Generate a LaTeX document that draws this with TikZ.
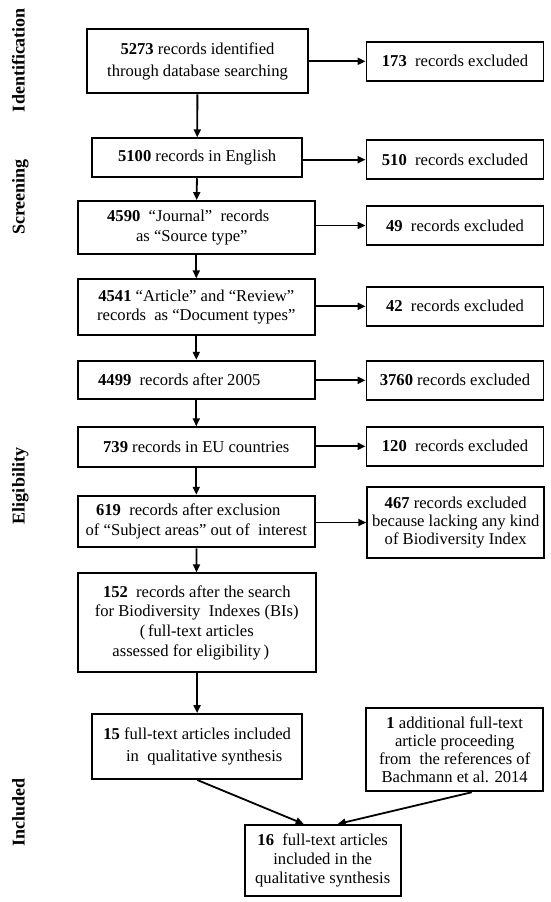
\documentclass[tikz,border=0pt]{standalone}
\usepackage{fontspec}
\setmainfont{Liberation Serif}
\usetikzlibrary{arrows.meta}
\begin{document}
\begin{tikzpicture}[x=1pt,y=-1pt,
  box/.style={draw, line width=1.9pt, inner sep=0pt, align=center, font=\fontsize{16.6}{20}\selectfont},
  rbox/.style={box, minimum width=177pt, minimum height=39.3pt},
  arr/.style={line width=1.8pt, -{Triangle[length=8pt,width=7pt]}},
  stage/.style={rotate=90, anchor=base, font=\fontsize{18}{20}\selectfont\bfseries}]
\useasboundingbox (0,0) rectangle (550,902);
\fill[white] (0,0) rectangle (550,902);

% stage labels
\node[stage] (s1) at (24.6,60) {Identification};
\node[stage] (s2) at (24.6,197) {Screening};
\node[stage] (s3) at (24.6,486) {Eligibility};
\node[stage] (s4) at (24.6,812) {Included};

% main column
\node[box, minimum width=220.4pt, minimum height=64.3pt, font=\fontsize{16.6}{22.5}\selectfont] (b1) at (197.5,61.2)
  {\textbf{5273} records identified\\through database searching};
\node[box, minimum width=209.7pt, minimum height=39pt] (b2) at (197.2,157.8)
  {\textbf{5100} records in English};
\node[box, minimum width=237.3pt, minimum height=53.3pt] (b3) at (196.3,227.7)
  {\textbf{4590}~~“Journal”~~records\hspace*{16pt}\\as “Source type”\hspace*{9pt}};
\node[box, minimum width=237.3pt, minimum height=55.7pt, font=\fontsize{16.6}{19.5}\selectfont] (b4) at (196.3,307.2)
  {\textbf{4541} “Article” and “Review”\\records~~as “Document types”};
\node[box, minimum width=237.3pt, minimum height=38.6pt] (b5) at (196.3,380)
  {\textbf{4499}~~records after 2005\hspace*{34pt}};
\node[box, minimum width=237.3pt, minimum height=39.4pt] (b6) at (196.3,447)
  {\textbf{739} records in EU countries};
\node[box, minimum width=237.3pt, minimum height=51.6pt] (b7) at (196.3,521.5)
  {\textbf{619}~~records after exclusion\hspace*{16pt}\\of “Subject areas” out of~~interest};
\node[box, minimum width=238pt, minimum height=98.4pt, font=\fontsize{16.6}{19.7}\selectfont] (b8) at (196.8,622.5)
  {\textbf{152}~~records after the search\\for Biodiversity~~Indexes (BIs)\\(\,full-text articles\hspace*{26pt}\\assessed for eligibility\,)\hspace*{12pt}};
\node[box, minimum width=209.7pt, minimum height=65pt, font=\fontsize{16.6}{21.7}\selectfont] (b9) at (197.2,746.5)
  {\textbf{15} full-text articles included\\\hspace*{14pt}in~~qualitative synthesis};
\node[box, minimum width=156.1pt, minimum height=70.7pt, font=\fontsize{16.6}{19}\selectfont] (b10) at (322.7,860.3)
  {\textbf{16}~~full-text articles\\included in the\\qualitative synthesis};

% right column
\node[rbox] (e1) at (455,61.3) {\textbf{173}~~records excluded};
\node[rbox] (e2) at (455,159.7) {\textbf{510}~~records excluded};
\node[rbox] (e3) at (455,225.5) {\textbf{49}~~records excluded};
\node[rbox] (e4) at (455,306.3) {\textbf{42}~~records excluded};
\node[rbox] (e5) at (455,380.3) {\textbf{3760} records excluded};
\node[rbox] (e6) at (455,446.3) {\textbf{120}~~records excluded};
\node[rbox, minimum height=71.6pt, font=\fontsize{16.6}{18.3}\selectfont] (e7) at (455.7,522.5)
  {\textbf{467} records excluded\\because lacking any kind\\of Biodiversity Index};
\node[rbox, minimum height=83pt, font=\fontsize{16.6}{18}\selectfont] (e8) at (454.7,749.8)
  {\textbf{1} additional full-text\\article proceeding\\from~~the references of\\Bachmann et al. 2014};

% vertical arrows
\draw[arr] (b1) -- (b2);
\draw[arr] (b2) -- (b3);
\draw[arr] (b3) -- (b4);
\draw[arr] (b4) -- (b5);
\draw[arr] (b5) -- (b6);
\draw[arr] (b6) -- (b7);
\draw[arr] (b7) -- (b8);
\draw[arr] (b8) -- (b9);

% horizontal arrows
\draw[arr] (b1.east |- e1.west) -- (e1.west);
\draw[arr] (b2.east |- e2.west) -- (e2.west);
\draw[arr] (b3.east |- e3.west) -- (e3.west);
\draw[arr] (b4.east |- e4.west) -- (e4.west);
\draw[arr] (b5.east |- e5.west) -- (e5.west);
\draw[arr] (b6.east |- e6.west) -- (e6.west);
\draw[arr] (b7.east |- e7.west) -- (e7.west);

% converging arrows
\draw[arr] (b9.south) -- ([xshift=-19pt]b10.north);
\draw[arr] ([xshift=17pt]e8.south) -- ([xshift=15pt]b10.north);
\end{tikzpicture}
\end{document}
